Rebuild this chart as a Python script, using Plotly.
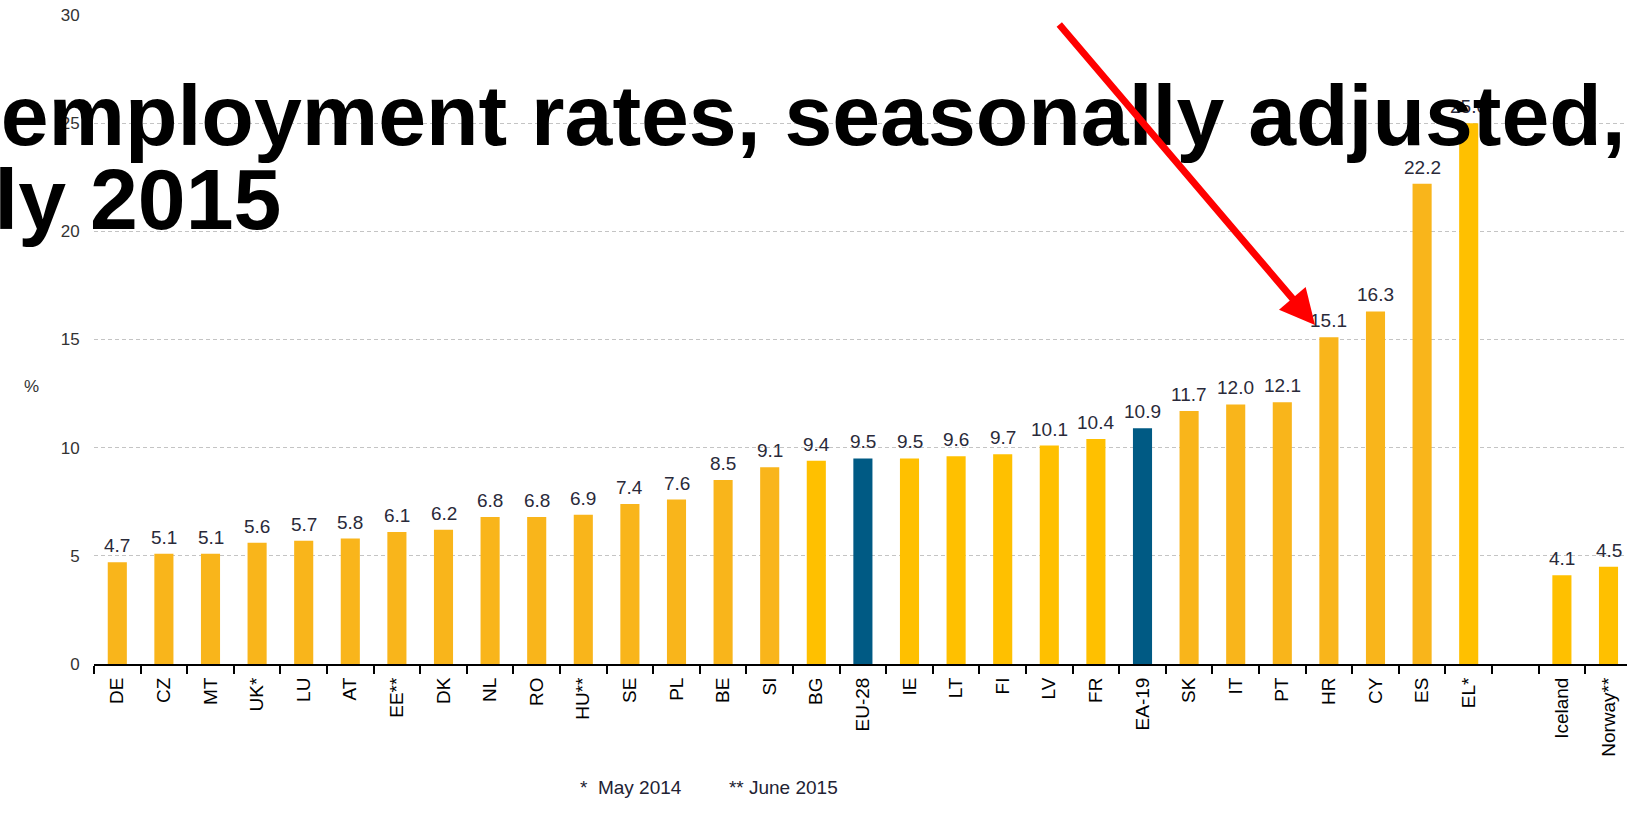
import plotly.graph_objects as go

# ---- data ----
categories = ["DE", "CZ", "MT", "UK*", "LU", "AT", "EE**", "DK", "NL", "RO", "HU**",
              "SE", "PL", "BE", "SI", "BG", "EU-28", "IE", "LT", "FI", "LV", "FR",
              "EA-19", "SK", "IT", "PT", "HR", "CY", "ES", "EL*", " ", "Iceland", "Norway**"]
values = [4.7, 5.1, 5.1, 5.6, 5.7, 5.8, 6.1, 6.2, 6.8, 6.8, 6.9,
          7.4, 7.6, 8.5, 9.1, 9.4, 9.5, 9.5, 9.6, 9.7, 10.1, 10.4,
          10.9, 11.7, 12.0, 12.1, 15.1, 16.3, 22.2, 25.0, None, 4.1, 4.5]
groups = ["o", "o", "o", "o", "o", "o", "o", "o", "o", "o", "o",
          "o", "o", "o", "o", "y", "a", "y", "y", "y", "y", "y",
          "a", "o", "o", "o", "o", "o", "o", "y", "y", "y", "y"]
y_ticks = [0, 5, 10, 15, 20, 25, 30]
title_line1 = "Unemployment rates, seasonally adjusted,"
title_line2 = "July 2015"
footnote = "*  May 2014         ** June 2015"
unit_label = "%"

# ---- styles ----
palette = {"o": "#F9B51B", "y": "#FFC000", "a": "#005A84"}
W, H = 1627, 817
ML, MR, MT, MB = 94, 0, 15, 153
PW, PH = W - ML - MR, H - MT - MB
CAT_W = 46.6


def px_x(px):
    return (px - ML) / PW


def px_y(py):
    return (H - MB - py) / PH


fig = go.Figure()
fig.add_trace(go.Bar(
    x=categories, y=values,
    marker=dict(color=[palette[g] for g in groups], line=dict(width=0)),
    width=0.41, hoverinfo="x+y", showlegend=False,
))

annotations = []
for c, v in zip(categories, values):
    if v is None:
        continue
    annotations.append(dict(
        x=c, y=v, xref="x", yref="y", text=f"{v:.1f}", showarrow=False,
        yanchor="bottom", yshift=4,
        font=dict(family="Liberation Sans, Arial", size=19, color="#2a2a3a"),
    ))

annotations.append(dict(
    x=px_x(22), y=px_y(387), xref="paper", yref="paper", text=unit_label,
    showarrow=False, font=dict(family="Liberation Sans, Arial", size=17, color="#333333"),
))
annotations.append(dict(
    x=px_x(709), y=px_y(800), xref="paper", yref="paper", text=footnote,
    showarrow=False, font=dict(family="Liberation Sans, Arial", size=19, color="#222233"),
))
# overlay title (cropped at the left)
annotations.append(dict(
    x=px_x(-116), y=px_y(115), xref="paper", yref="paper", text=f"<b>{title_line1}</b>",
    showarrow=False, xanchor="left", yanchor="middle",
    font=dict(family="Liberation Sans, Arial", size=86, color="#000000"),
))
annotations.append(dict(
    x=px_x(-108), y=px_y(199), xref="paper", yref="paper", text=f"<b>{title_line2}</b>",
    showarrow=False, xanchor="left", yanchor="middle",
    font=dict(family="Liberation Sans, Arial", size=86, color="#000000"),
))
# red arrow pointing to HR
annotations.append(dict(
    x=px_x(1315), y=px_y(325), xref="paper", yref="paper", text="",
    showarrow=True, arrowhead=2, arrowsize=1, arrowwidth=7, arrowcolor="#FF0000",
    ax=1058 - 1315, ay=23 - 325, axref="pixel", ayref="pixel",
))

fig.update_layout(
    width=W, height=H,
    margin=dict(l=ML, r=MR, t=MT, b=MB, pad=0),
    paper_bgcolor="white", plot_bgcolor="white",
    annotations=annotations,
    bargap=0.59,
    xaxis=dict(
        type="category", categoryorder="array", categoryarray=categories,
        range=[-0.5, -0.5 + PW / CAT_W],
        tickson="boundaries", ticks="outside", ticklen=8, tickwidth=1.5, tickcolor="#000000",
        showline=True, linecolor="#000000", linewidth=2,
        tickangle=-90, showgrid=False, ticklabelstandoff=4,
        tickfont=dict(family="Liberation Sans, Arial", size=19, color="#000000"),
    ),
    yaxis=dict(
        range=[0, 30], tickvals=y_ticks, showgrid=True, griddash="4px,3px",
        gridcolor="#C4C4C4", gridwidth=1, zeroline=False, showline=False,
        ticks="outside", ticklen=10, tickcolor="rgba(0,0,0,0)",
        tickfont=dict(family="Liberation Sans, Arial", size=17, color="#333333"),
    ),
)

fig.write_html("out.html", config={"displayModeBar": False},
               post_script="document.body.style.margin='0';")
